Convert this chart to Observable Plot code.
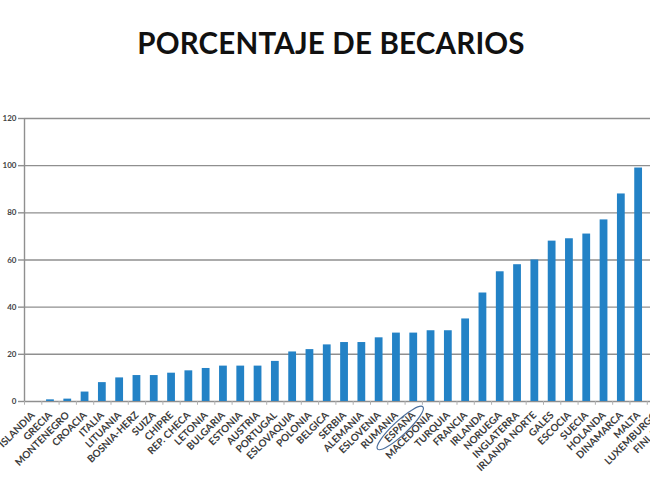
<!DOCTYPE html>
<html><head><meta charset="utf-8">
<script src="https://cdn.jsdelivr.net/npm/d3@7"></script>
<script src="https://cdn.jsdelivr.net/npm/@observablehq/plot@0.6"></script>
<style>
body{margin:0;background:#fff;overflow:hidden;}
#wrap{width:650px;height:487px;overflow:hidden;position:relative;background:#fff;}
#title{position:absolute;left:0;top:25px;width:662px;text-align:center;font:bold 29.5px Lato, sans-serif;color:#111;letter-spacing:0.2px;}
#chart{position:absolute;left:0;top:80px;width:720px;}
#chart svg{max-width:none !important;}
</style></head><body>
<div id="wrap"><div id="title">PORCENTAJE DE BECARIOS</div><div id="chart"></div></div>
<script>
const paises = ["ISLANDIA","GRECIA","MONTENEGRO","CROACIA","ITALIA","LITUANIA","BOSNIA-HERZ","SUIZA","CHIPRE","REP. CHECA","LETONIA","BULGARIA","ESTONIA","AUSTRIA","PORTUGAL","ESLOVAQUIA","POLONIA","BELGICA","SERBIA","ALEMANIA","ESLOVENIA","RUMANIA","ESPAÑA","MACEDONIA","TURQUIA","FRANCIA","IRLANDA","NORUEGA","INGLATERRA","IRLANDA NORTE","GALES","ESCOCIA","SUECIA","HOLANDA","DINAMARCA","MALTA","LUXEMBURGO","FINLANDIA","UCRANIA"];
const paisesConBarra = paises.slice(0, 36);
const porcentajes = [0,0.7,1,4,8,10,11,11,12,13,14,15,15,15,17,21,22,24,25,25,27,29,29,30,30,35,46,55,58,60,68,69,71,77,88,99];
const yTicks = [0,20,40,60,80,100,120];

const data = porcentajes.map((v, i) => ({pais: paisesConBarra[i], valor: v}));
const ml = 24, mr = 10, step = 17.3;
const width = ml + mr + paises.length * step;
const grid = "#8f8f8f";

const chart = Plot.plot({
  width, height: 407,
  marginLeft: ml, marginRight: mr, marginTop: 38, marginBottom: 86,
  x: {domain: paises, paddingInner: 0.55, paddingOuter: 0.275, round: false, label: null},
  y: {domain: [0, 120], label: null},
  style: {fontFamily: "Lato, sans-serif", background: "#fff", overflow: "visible", maxWidth: "none"},
  marks: [
    Plot.gridY(yTicks, {stroke: grid, strokeOpacity: 1, strokeWidth: 1.4}),
    Plot.ruleX([paises[0]], {dx: -step / 2, stroke: grid, strokeWidth: 1.4}),
    Plot.ruleX(paises, {y1: 0, y2: -1.6, dx: -step / 2, stroke: "#b0b0b0", strokeWidth: 1}),
    Plot.barY(data, {x: "pais", y: "valor", fill: "#2382c6"}),
    Plot.axisY(yTicks, {tickSize: 6, tickPadding: 2, fontSize: 8, fontWeight: "bold", fill: "#444", stroke: grid, strokeWidth: 1.4}),
    Plot.axisX({tickSize: 0, tickRotate: -45, tickPadding: 12, fontSize: 10, fontWeight: "bold", fill: "#3c3c3c"})
  ]
});
chart.style.maxWidth = "none";
document.getElementById("chart").appendChild(chart);

// hand-drawn circle around ESPAÑA
const xs = chart.scale("x"), ys = chart.scale("y");
const cx = xs.apply("ESPAÑA") + xs.bandwidth / 2 - 13;
const cy = ys.apply(0) + 27;
d3.select(chart).append("ellipse")
  .attr("cx", cx).attr("cy", cy).attr("rx", 31).attr("ry", 7)
  .attr("transform", `rotate(-43 ${cx} ${cy})`)
  .attr("fill", "none").attr("stroke", "#4a6e9c").attr("stroke-width", 1.2);
</script>
</body></html>
